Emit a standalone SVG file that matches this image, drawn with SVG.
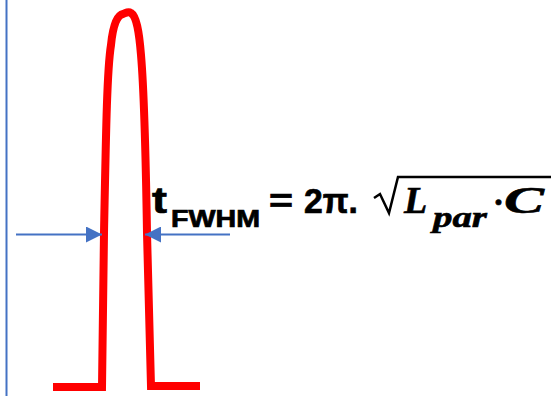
<svg xmlns="http://www.w3.org/2000/svg" width="551" height="396" viewBox="0 0 551 396">
<defs>
<style>
.blue{stroke:#4472C4;stroke-width:2;fill:none}
.pulse{stroke:#FF0000;stroke-width:8;fill:none;stroke-linejoin:miter}
.t{font-family:"Liberation Sans",Arial,sans-serif;font-weight:bold;fill:#000;stroke:#000;stroke-width:0.7}
.m{font-family:"Liberation Serif","Times New Roman",serif;font-weight:bold;font-style:italic;fill:#000;stroke:#000;stroke-width:0.6}
</style>
<marker id="ah2" viewBox="0 0 16 16" refX="16" refY="8" markerWidth="16" markerHeight="16" markerUnits="userSpaceOnUse" orient="auto">
<path d="M0,0 L16,8 L0,16 z" fill="#4472C4"/>
</marker>
</defs>
<g id="axis"><line class="blue" x1="6.5" y1="0" x2="6.5" y2="396"/></g>
<g id="pulse">
<path class="pulse" d="M53,387 L102,387 L104,233 C106,130 107,70 111,45 C113,25 117,15 123,14 C126,13 128,11 131,13 C136,16 139,30 141,55 C144,90 146,170 147,233 L151,386 L200,386"/>
</g>
<g id="connectors">
<line class="blue" x1="16" y1="234.5" x2="102" y2="234.5" marker-end="url(#ah2)"/>
<line class="blue" x1="230" y1="234.5" x2="145" y2="234.5" marker-end="url(#ah2)"/>
</g>
<g id="formula">
<text class="t" x="152" y="213" font-size="37" textLength="15" lengthAdjust="spacingAndGlyphs">t</text>
<text class="t" x="171" y="227" font-size="23" textLength="89" lengthAdjust="spacingAndGlyphs">FWHM</text>
<text class="t" x="269" y="212" font-size="34" textLength="24" lengthAdjust="spacingAndGlyphs">=</text>
<text class="t" x="304" y="213" font-size="35" textLength="54" lengthAdjust="spacingAndGlyphs">2π.</text>
<path d="M374,198 L380,194 L389,213 L398,177 L551,177" stroke="#000" stroke-width="2.5" fill="none" stroke-linejoin="miter"/>
<text class="m" x="404" y="213" font-size="38">L</text>
<text class="m" x="433" y="227" font-size="30" textLength="54" lengthAdjust="spacingAndGlyphs">par</text>
<text class="m" x="494" y="213" font-size="34">·</text>
<text class="m" x="504" y="213" font-size="38" textLength="40" lengthAdjust="spacingAndGlyphs">C</text>
</g>
</svg>
